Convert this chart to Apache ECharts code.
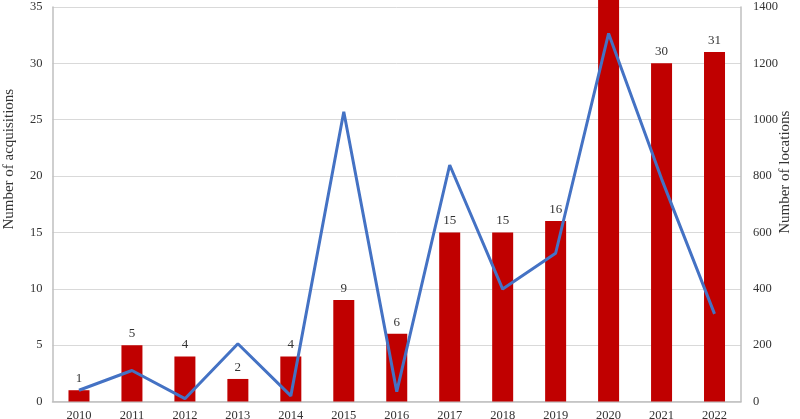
<!DOCTYPE html>
<html>
<head>
<meta charset="utf-8">
<script src="https://cdn.jsdelivr.net/npm/echarts@6/dist/echarts.min.js"></script>
<style>html,body{margin:0;padding:0;background:#fff}#c{width:800px;height:419px}</style>
</head>
<body>
<div id="c"></div>
<script>
var years = ['2010','2011','2012','2013','2014','2015','2016','2017','2018','2019','2020','2021','2022'];
var acquisitions = [1, 5, 4, 2, 4, 9, 6, 15, 15, 16, 38, 30, 31];
var locations = [40, 110, 10, 205, 20, 1028, 35, 839, 399, 526, 1306, 790, 311];
var leftTicks = [0, 5, 10, 15, 20, 25, 30, 35];
var rightTicks = [0, 200, 400, 600, 800, 1000, 1200, 1400];

var font = '"Liberation Serif", "Times New Roman", serif';
var txt = '#333333';
var chart = echarts.init(document.getElementById('c'), null, {renderer: 'canvas'});
chart.setOption({
  animation: false,
  backgroundColor: '#ffffff',
  grid: {left: 52.5, right: 59, top: 6.9, bottom: 17.5, containLabel: false, outerBoundsMode: 'none'},
  xAxis: {
    type: 'category',
    data: years,
    boundaryGap: true,
    axisLine: {show: true, lineStyle: {color: '#bfbfbf', width: 1.5}},
    axisTick: {show: false},
    axisLabel: {color: txt, fontFamily: font, fontSize: 12.5, margin: 8}
  },
  yAxis: [{
    type: 'value',
    min: leftTicks[0],
    max: leftTicks[leftTicks.length - 1],
    interval: 5,
    name: 'Number of acquisitions',
    nameLocation: 'middle',
    nameRotate: 90,
    nameGap: 36,
    nameMoveOverlap: false,
    nameTextStyle: {color: txt, fontFamily: font, fontSize: 15, padding: [0, 0, 0, 90]},
    axisLine: {show: true, lineStyle: {color: '#bfbfbf', width: 1.5}},
    axisTick: {show: false},
    axisLabel: {color: txt, fontFamily: font, fontSize: 12.5, margin: 10},
    splitLine: {show: true, lineStyle: {color: '#d9d9d9', width: 1}}
  }, {
    type: 'value',
    position: 'right',
    min: rightTicks[0],
    max: rightTicks[rightTicks.length - 1],
    interval: 200,
    name: 'Number of locations',
    nameLocation: 'middle',
    nameRotate: 90,
    nameGap: 37,
    nameMoveOverlap: false,
    nameTextStyle: {color: txt, fontFamily: font, fontSize: 15, padding: [0, 0, 0, 64]},
    axisLine: {show: true, lineStyle: {color: '#bfbfbf', width: 1.5}},
    axisTick: {show: false},
    axisLabel: {color: txt, fontFamily: font, fontSize: 12.5, margin: 12,
      formatter: function (v) { return String(v); }},
    splitLine: {show: false}
  }],
  series: [{
    type: 'bar',
    yAxisIndex: 0,
    clip: false,
    data: acquisitions.map(function (v, i) {
      return years[i] === '2020' ? {value: v, label: {show: false}} : v;
    }),
    barWidth: 21,
    itemStyle: {color: '#c00000'},
    label: {show: true, position: 'top', distance: 5, color: txt, fontFamily: font, fontSize: 13}
  }, {
    type: 'line',
    yAxisIndex: 1,
    data: locations,
    symbol: 'none',
    lineStyle: {color: '#4472c4', width: 3},
    z: 3
  }]
});
</script>
</body>
</html>
